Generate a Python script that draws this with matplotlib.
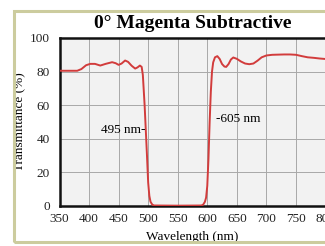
import matplotlib
matplotlib.use("Agg")
import matplotlib.pyplot as plt
from matplotlib.patches import Rectangle

title = "0° Magenta Subtractive"
xlabel = "Wavelength (nm)"
ylabel = "Transmittance (%)"
xticks = [350, 400, 450, 500, 550, 600, 650, 700, 750, 800]
yticks = [0, 20, 40, 60, 80, 100]

wavelength = [350, 380, 387, 395, 402, 410, 419, 428, 439, 445, 450, 455, 461, 466,
              472, 478, 482, 486, 489, 491, 494, 496, 498, 500, 502, 504, 507, 510,
              550, 590, 593, 596, 598, 600, 602, 604, 606, 608, 610, 613, 617, 621,
              625, 629, 632, 636, 640, 644, 650, 657, 664, 671, 678, 685, 692, 700,
              710, 720, 730, 740, 750, 760, 770, 780, 790, 800]
transmittance = [80.5, 80.5, 81.5, 83.8, 84.6, 84.6, 83.6, 84.6, 85.6, 85.0, 84.0, 84.8,
                 86.6, 85.8, 83.5, 81.8, 82.5, 83.6, 82.8, 78, 60, 45, 30, 14, 6, 2.5,
                 0.8, 0.3, 0.2, 0.3, 0.8, 2.5, 5, 12, 28, 50, 68, 80, 85.5, 88.5, 89.2,
                 87.5, 84.5, 83, 82.8, 84.5, 87.2, 88.4, 87.6, 86.0, 84.8, 84.4, 84.8,
                 86.5, 88.5, 89.6, 90.0, 90.1, 90.2, 90.2, 90.0, 89.2, 88.5, 88.2, 87.8,
                 87.5]

ann_left = "495 nm-"
ann_right = "-605 nm"

serif = ["Liberation Serif", "DejaVu Serif"]
plt.rcParams["font.family"] = serif

fig = plt.figure(figsize=(3.25, 2.46), dpi=100)
fig.patch.set_facecolor("white")
ax = fig.add_axes([59.5 / 325, 40 / 246, 266 / 325, 168 / 246])
ax.set_facecolor("#f2f2f2")
ax.plot(wavelength, transmittance, color="#d23c3c", lw=1.4, zorder=3)
ax.set_xlim(350, 800)
ax.set_ylim(0, 100)
ax.set_xticks(xticks)
ax.set_yticks(yticks)
ax.grid(True, color="#a8a8a8", lw=0.7)
ax.set_axisbelow(True)
ax.tick_params(length=0, labelsize=9.5, colors="#222222")
ax.tick_params(axis="x", pad=5)
ax.tick_params(axis="y", pad=7)
for s in ax.spines.values():
    s.set_color("#111111")
    s.set_linewidth(1.8)
ax.set_title(title, fontsize=14, fontweight="bold", pad=7.5)
ax.set_xlabel(xlabel, fontsize=9.5)
ax.set_ylabel(ylabel, fontsize=9.5)
ax.xaxis.set_label_coords(0.5, -0.15)
ax.yaxis.set_label_coords(-0.125, 0.5)

ax.text(496, 45, ann_left, ha="right", va="center", fontsize=9.5)
ax.text(614, 52, ann_right, ha="left", va="center", fontsize=9.5)

frame = Rectangle((14 / 325, 4 / 246), 400 / 325, 231 / 246, transform=fig.transFigure,
                  fill=False, edgecolor="#cccc9e", lw=2.2, zorder=10)
fig.patches.append(frame)

fig.savefig("out.png", dpi=100, facecolor="white")
